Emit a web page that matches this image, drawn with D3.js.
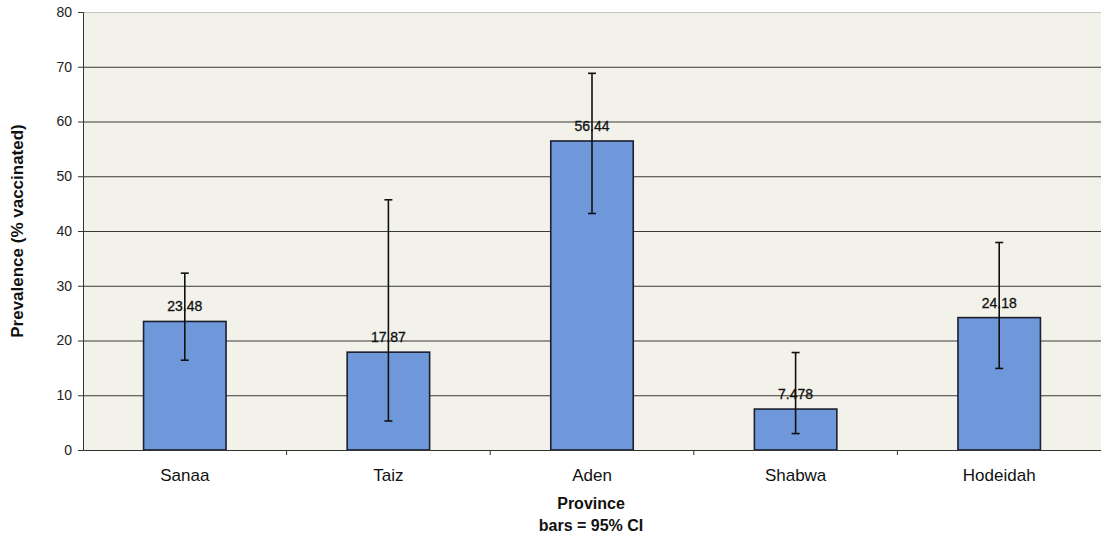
<!DOCTYPE html>
<html>
<head>
<meta charset="utf-8">
<script src="https://cdn.jsdelivr.net/npm/d3@7"></script>
<style>
  body { margin: 0; background: #fff; }
  svg { display: block; font-family: "Liberation Sans", Arial, sans-serif; }
</style>
</head>
<body>
<div id="chart"></div>
<script>
const provinces = ["Sanaa", "Taiz", "Aden", "Shabwa", "Hodeidah"]
const prevalence = [23.48, 17.87, 56.44, 7.478, 24.18]
const valueLabels = ["23.48", "17.87", "56.44", "7.478", "24.18"]
const ciLow = [16.4, 5.3, 43.2, 3.0, 14.9]
const ciHigh = [32.3, 45.7, 68.8, 17.8, 37.9]
const yTicks = [0, 10, 20, 30, 40, 50, 60, 70, 80]

const width = 1101, height = 538
const margin = {top: 12, right: 0, bottom: 88, left: 83}

const data = provinces.map((p, i) => ({
  province: p, value: prevalence[i], label: valueLabels[i], lo: ciLow[i], hi: ciHigh[i]
}))

const svg = d3.select("#chart").append("svg")
  .attr("width", width).attr("height", height)

let x = d3.scaleBand()
  .domain(provinces)
  .range([margin.left, width - margin.right])

let y = d3.scaleLinear()
  .domain([0, 80])
  .range([height - margin.bottom, margin.top])

const barW = x.bandwidth() * 0.405
const cx = d => x(d.province) + x.bandwidth() / 2

// plot background
svg.append("rect")
  .attr("x", margin.left).attr("y", margin.top)
  .attr("width", width - margin.right - margin.left)
  .attr("height", y(0) - margin.top)
  .attr("fill", "#f2f1ea")

// gridlines
svg.append("g")
  .selectAll("line")
  .data(yTicks.filter(t => t > 0))
  .join("line")
  .attr("x1", margin.left).attr("x2", width - margin.right)
  .attr("y1", d => y(d) + 0.5).attr("y2", d => y(d) + 0.5)
  .attr("stroke", d => d === 80 ? "#c4c4bc" : "#3a3a36")
  .attr("stroke-width", 1)

// bars
svg.append("g")
  .selectAll("rect")
  .data(data)
  .join("rect")
  .attr("x", d => cx(d) - barW / 2)
  .attr("y", d => y(d.value))
  .attr("width", barW)
  .attr("height", d => y(0) - y(d.value))
  .attr("fill", "#6e98da")
  .attr("stroke", "#1c1f2e")
  .attr("stroke-width", 1.6)

// value labels
svg.append("g")
  .selectAll("text")
  .data(data)
  .join("text")
  .attr("x", d => cx(d))
  .attr("y", d => y(d.value) - 10)
  .attr("text-anchor", "middle")
  .attr("font-size", 14)
  .attr("fill", "#111")
  .attr("stroke", "#111").attr("stroke-width", 0.3)
  .text(d => d.label)

// error bars
const eb = svg.append("g").attr("stroke", "#111").attr("stroke-width", 1.6)
eb.selectAll("line.v")
  .data(data)
  .join("line")
  .attr("class", "v")
  .attr("x1", cx).attr("x2", cx)
  .attr("y1", d => y(d.hi)).attr("y2", d => y(d.lo))
eb.selectAll("line.top")
  .data(data)
  .join("line")
  .attr("class", "top")
  .attr("x1", d => cx(d) - 4).attr("x2", d => cx(d) + 4)
  .attr("y1", d => y(d.hi)).attr("y2", d => y(d.hi))
eb.selectAll("line.bot")
  .data(data)
  .join("line")
  .attr("class", "bot")
  .attr("x1", d => cx(d) - 4).attr("x2", d => cx(d) + 4)
  .attr("y1", d => y(d.lo)).attr("y2", d => y(d.lo))

// y axis
let yAxis = g => g
  .attr("transform", `translate(${margin.left},0)`)
  .call(d3.axisLeft(y).tickValues(yTicks).tickSize(5).tickPadding(6))
  .call(g => g.selectAll(".domain").attr("stroke", "#333"))
  .call(g => g.selectAll(".tick line").attr("stroke", "#333"))
  .call(g => g.selectAll(".tick text").attr("font-size", 14).attr("fill", "#222")
    .attr("font-family", "Liberation Sans, Arial, sans-serif"))

// x axis, ticks between categories
let xAxis = g => g
  .attr("transform", `translate(0,${y(0)})`)
  .call(d3.axisBottom(x).tickSize(0).tickPadding(19))
  .call(g => g.selectAll(".domain").attr("stroke", "#333"))
  .call(g => g.selectAll(".tick text").attr("font-size", 17).attr("fill", "#111")
    .attr("font-family", "Liberation Sans, Arial, sans-serif"))

svg.append("g").call(xAxis)
svg.append("g").call(yAxis)

svg.append("g")
  .selectAll("line")
  .data(provinces.slice(1))
  .join("line")
  .attr("x1", d => x(d)).attr("x2", d => x(d))
  .attr("y1", y(0)).attr("y2", y(0) + 5)
  .attr("stroke", "#333")

// axis titles
svg.append("text")
  .attr("transform", `translate(23,${(margin.top + y(0)) / 2}) rotate(-90)`)
  .attr("text-anchor", "middle")
  .attr("font-size", 17).attr("font-weight", "bold").attr("fill", "#111")
  .text("Prevalence (% vaccinated)")

svg.append("text")
  .attr("x", (margin.left + width) / 2 - 1).attr("y", 509)
  .attr("text-anchor", "middle")
  .attr("font-size", 16).attr("font-weight", "bold").attr("fill", "#111")
  .text("Province")

svg.append("text")
  .attr("x", (margin.left + width) / 2 - 1).attr("y", 531)
  .attr("text-anchor", "middle")
  .attr("font-size", 16).attr("font-weight", "bold").attr("fill", "#111")
  .text("bars = 95% CI")
</script>
</body>
</html>
